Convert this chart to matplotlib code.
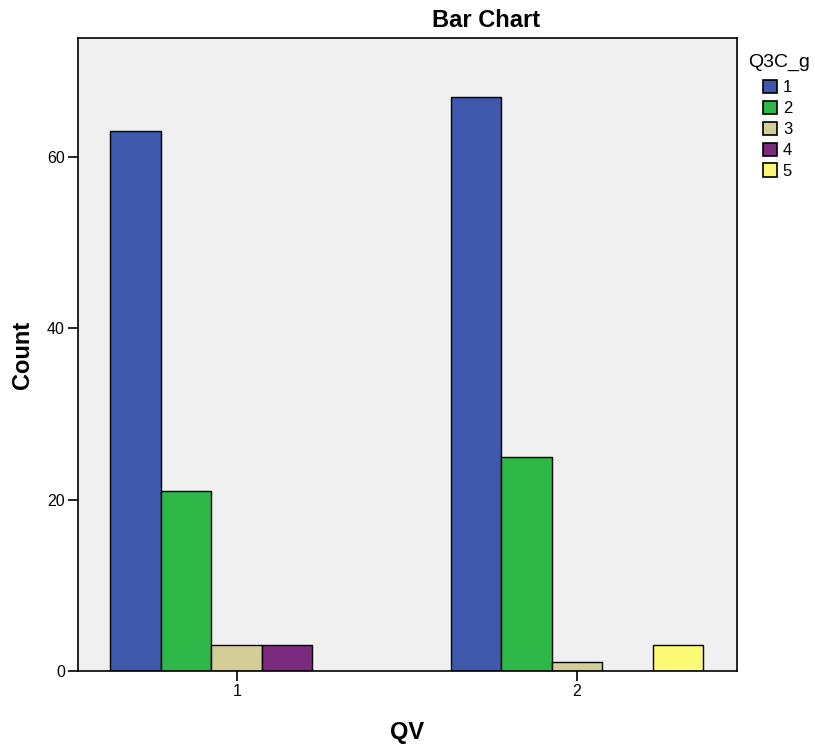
import matplotlib
matplotlib.use("Agg")
import matplotlib.pyplot as plt
import numpy as np
from matplotlib.patches import Patch

plt.rcParams['font.family'] = ['Liberation Sans', 'DejaVu Sans']

groups = ["1", "2"]
series = ["1", "2", "3", "4", "5"]
counts = {
    "1": [63, 67],
    "2": [21, 25],
    "3": [3, 1],
    "4": [3, 0],
    "5": [0, 3],
}
colors = ["#3E58AC", "#2EB848", "#D3CE97", "#7B2A7D", "#FBF873"]
yticks = [0, 20, 40, 60]

fig = plt.figure(figsize=(8.15, 7.44), dpi=100)
ax = fig.add_axes([78/815, 73/744, (737-78)/815, (671-38)/744])
ax.set_facecolor("#F0F0F0")

xpos = np.arange(1, len(groups) + 1)
w = 0.1484
handles = []
for i, s in enumerate(series):
    vals = np.array(counts[s], dtype=float)
    vals[vals == 0] = np.nan
    ax.bar(xpos + (i - 2) * w, vals, width=w, color=colors[i],
           edgecolor="black", linewidth=1.0)
    handles.append(Patch(facecolor=colors[i], edgecolor="black", linewidth=1.2))

ax.set_xlim(0.5336, 2.470)
ax.set_ylim(0, 73.9)
ax.set_xticks(xpos)
ax.set_xticklabels(groups)
ax.set_yticks(yticks)
ax.tick_params(axis='both', direction='out', length=7.5, width=1.2, labelsize=11.5, pad=2)
for sp in ax.spines.values():
    sp.set_linewidth(1.2)
ax.set_xlabel("QV", fontsize=17, fontweight='bold', labelpad=16)
ax.set_ylabel("Count", fontsize=17, fontweight='bold', labelpad=9)
fig.text(486/815, 1 - 27/744, "Bar Chart", fontsize=17, fontweight='bold',
         ha='center', va='baseline')

fig.text(748/815, 1 - 67/744, "Q3C_g", fontsize=14, ha='left', va='baseline')
leg = fig.legend(handles, series, loc="upper left",
                 bbox_to_anchor=(763/815, 1 - 80/744), frameon=False,
                 fontsize=12, handlelength=0.84,
                 handleheight=0.84, handletextpad=0.35, labelspacing=0.33,
                 borderaxespad=0, borderpad=0)

fig.savefig("out.png", dpi=100)
